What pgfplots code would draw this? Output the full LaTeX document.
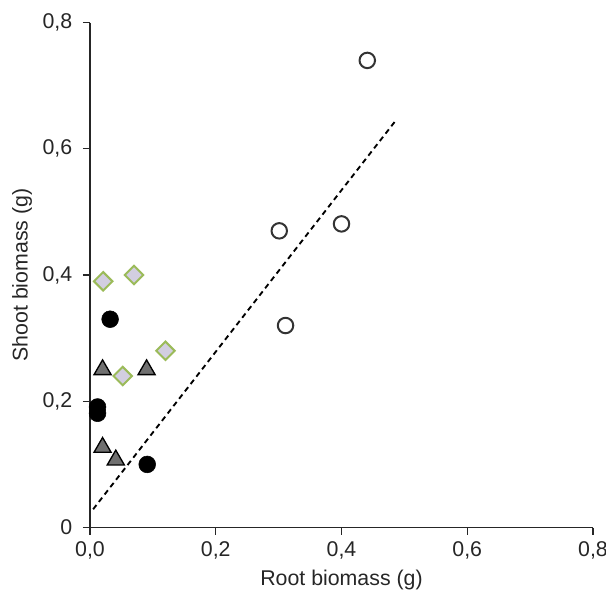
\documentclass[border=0pt]{standalone}
\usepackage{fontspec}
\setmainfont{Liberation Sans}
\usepackage{pgfplots}
\pgfplotsset{compat=1.18}
\definecolor{diafill}{RGB}{210,206,224}
\definecolor{diaedge}{RGB}{155,187,89}
\definecolor{trifill}{RGB}{112,112,112}

\begin{document}
\begin{tikzpicture}
\begin{axis}[
    scale only axis,
    width=377.25pt, height=378.75pt,
    xmin=0, xmax=0.8, ymin=0, ymax=0.8,
    axis line style={draw=none},
    xtick pos=bottom, ytick pos=left,
    tick align=outside,
    major tick length=5.25pt,
    tick style={draw=black, line width=0.9pt},
    xtick={0,0.2,0.4,0.6,0.8},
    ytick={0,0.2,0.4,0.6,0.8},
    xticklabels={{0,0},{0,2},{0,4},{0,6},{0,8}},
    yticklabels={0,{0,2},{0,4},{0,6},{0,8}},
    clip=false,
    ticklabel style={font=\fontsize{16}{18}\selectfont, text=black!85},
    label style={font=\fontsize{16}{18}\selectfont, text=black!85},
    xticklabel style={yshift=-1.5pt},
    yticklabel style={xshift=-4.5pt},
    xlabel={Root biomass (g)},
    ylabel={Shoot biomass (g)},
    xlabel style={at={(axis description cs:0.5,-0.104)}, anchor=center},
    ylabel style={at={(axis description cs:-0.135,0.5)}, anchor=center},
]
% axis lines and tick marks
\draw[black!85, line width=0.9pt] (axis cs:0,0.8) -- (axis cs:0,0) -- (axis cs:0.8,0);
\pgfplotsinvokeforeach{0,0.2,0.4,0.6,0.8}{
    \draw[black!85, line width=0.9pt] (axis cs:#1,0) -- ++(0pt,-5.25pt);
    \draw[black!85, line width=0.9pt] (axis cs:0,#1) -- ++(-5.25pt,0pt);
}
% regression line
\addplot[black, line width=1.4pt, dash pattern=on 4pt off 3pt] coordinates {(0.005,0.029) (0.488,0.647)};
% open circles
\addplot[only marks, mark=*, mark size=5.8pt, mark options={fill=white, draw=black!80, line width=1.5pt}] coordinates {
    (0.441,0.740) (0.301,0.470) (0.400,0.481) (0.311,0.320)
};
% diamonds
\addplot[only marks, mark=square*, mark size=4.9pt, mark options={rotate=45, fill=diafill, draw=diaedge, line width=1.5pt}] coordinates {
    (0.021,0.39) (0.070,0.40) (0.052,0.24) (0.120,0.28)
};
% filled circles
\addplot[only marks, mark=*, mark size=6.3pt, mark options={fill=black, draw=black}] coordinates {
    (0.032,0.33) (0.012,0.191) (0.012,0.181) (0.091,0.100)
};
% triangles
\addplot[only marks, mark=triangle*, mark size=7.4pt, mark options={fill=trifill, draw=black, line width=1pt}] coordinates {
    (0.020,0.25) (0.090,0.25) (0.020,0.127) (0.041,0.107)
};
\end{axis}
\path (current axis.south west) ++(-67.5pt,-48.4pt) coordinate (bbl);
\path (current axis.north east) ++(9.75pt,16.9pt) coordinate (bbr);
\pgfresetboundingbox
\useasboundingbox (bbl) rectangle (bbr);
\end{tikzpicture}
\end{document}
